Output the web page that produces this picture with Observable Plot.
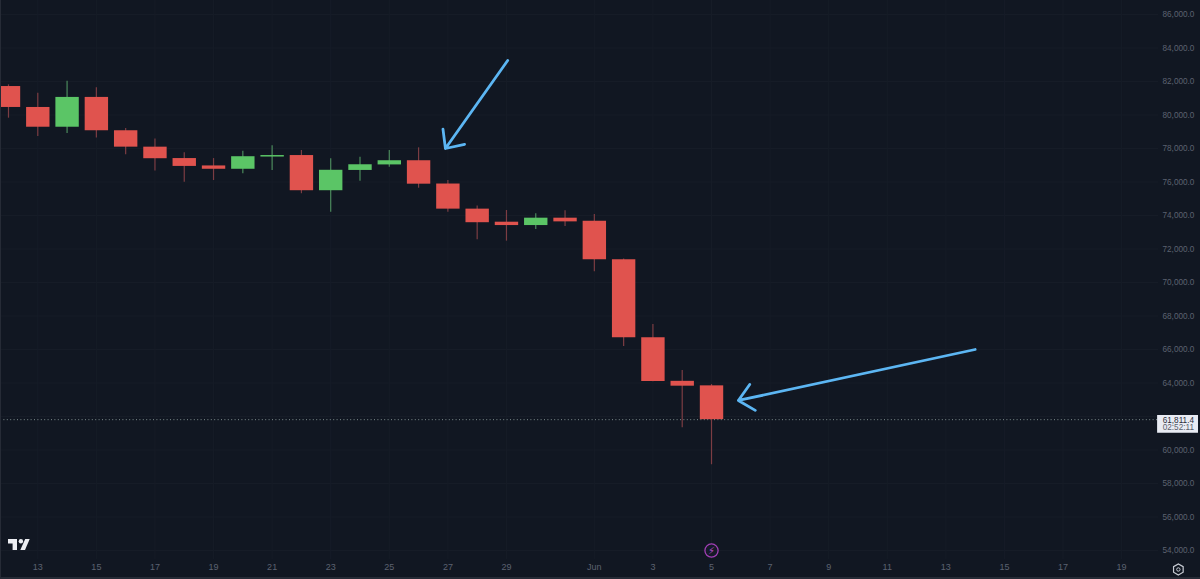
<!DOCTYPE html>
<html>
<head>
<meta charset="utf-8">
<script src="https://cdn.jsdelivr.net/npm/d3@7"></script>
<script src="https://cdn.jsdelivr.net/npm/@observablehq/plot@0.6"></script>
<style>
html,body{margin:0;padding:0;background:#111722;overflow:hidden}
#wrap{position:relative;width:1200px;height:579px;overflow:hidden}
#wrap svg{display:block}
#edge{position:absolute;left:0;top:0;width:1200px;height:579px;box-sizing:border-box;border-left:1px solid #262b36;border-bottom:2px solid #262b36;pointer-events:none}
#logo{position:absolute;left:8px;top:539px}
</style>
</head>
<body>
<div id="wrap"><div id="chart"></div><div id="edge"></div>
<svg id="logo" width="22" height="11" viewBox="0 0 22 11"><path fill="#eceef2" d="M0 0H9V11H4.6V4.4H0Z"/><path fill="#eceef2" d="M17.2 0H21.7L17 11H12.3Z"/><circle fill="#eceef2" cx="12.9" cy="2.2" r="2.2"/></svg>
</div>
<script>
const dates = ["2024-05-12","2024-05-13","2024-05-14","2024-05-15","2024-05-16","2024-05-17","2024-05-18","2024-05-19","2024-05-20","2024-05-21","2024-05-22","2024-05-23","2024-05-24","2024-05-25","2024-05-26","2024-05-27","2024-05-28","2024-05-29","2024-05-30","2024-05-31","2024-06-01","2024-06-02","2024-06-03","2024-06-04","2024-06-05"];
const opens  = [81700,80450,79270,81050,79060,78080,77400,76960,76760,77490,77580,75480,76690,77020,77270,75880,74380,73600,73400,73840,73660,71360,66700,64100,63830];
const closes = [80450,79270,81050,79060,78080,77390,76930,76760,77510,77580,75480,76700,77030,77270,75870,74380,73570,73400,73840,73620,71360,66700,64090,63810,61811];
const highs  = [81800,81300,82020,81620,79190,78560,77740,77400,77840,78160,77880,77390,77480,77880,78040,76090,74560,74300,74100,74280,74060,71400,67490,64750,63910];
const lows   = [79810,78720,78900,78620,77620,76650,75990,76090,76490,76690,75300,74200,76050,76880,75630,74200,72550,72470,73170,73340,70640,66180,64080,61330,59120];

const yTicks = [54000,56000,58000,60000,62000,64000,66000,68000,70000,72000,74000,76000,78000,80000,82000,84000,86000];
const yLabelTicks = [54000,56000,58000,60000,64000,66000,68000,70000,72000,74000,76000,78000,80000,82000,84000,86000];
const xTickDates = ["2024-05-13","2024-05-15","2024-05-17","2024-05-19","2024-05-21","2024-05-23","2024-05-25","2024-05-27","2024-05-29","2024-06-01","2024-06-03","2024-06-05","2024-06-07","2024-06-09","2024-06-11","2024-06-13","2024-06-15","2024-06-17","2024-06-19"];
const xTickLabels = ["13","15","17","19","21","23","25","27","29","Jun","3","5","7","9","11","13","15","17","19"];

const lastPrice = 61811.4;
const lastPriceLabel = "61,811.4";
const countdownLabel = "02:52:11";
const arrowStart = [["2024-05-29T01:00Z",83254],["2024-06-14T00:00Z",66000]];
const arrowEnd   = [["2024-05-26T22:00Z",78000],["2024-06-05T22:00Z",62956]];
const boxX = ["2024-06-20T05:30Z","2024-06-21T15:00Z"];
const boxY = [61000,62060];
const boxTextX = "2024-06-20T22:30Z";
const priceTextY = 61780;
const timerTextY = 61330;
const flashDate = "2024-06-05";
const flashY = 54000;
const gearX = "2024-06-20T22:30Z";
const gearY = 52867;

const D = s => new Date(s);
const candles = dates.map((d,i)=>({date:D(d),open:opens[i],close:closes[i],high:highs[i],low:lows[i],up:closes[i]>opens[i]}));
const xTicks = xTickDates.map(D);
const labelOf = new Map(xTickDates.map((d,i)=>[+D(d),xTickLabels[i]]));
const arrows = arrowStart.map((s,i)=>({x1:D(s[0]),y1:s[1],x2:D(arrowEnd[i][0]),y2:arrowEnd[i][1]}));

const RED="#e0534e", GREEN="#5bc566", RED_W="#7c3d43", GREEN_W="#4b8a5c", AXIS="#5c6270", GRID="#161c27", BLUE="#5cb6f3";
const font="'Liberation Sans', Arial, sans-serif";

const chart = Plot.plot({
  width:1200,height:579,marginTop:0,marginRight:42,marginBottom:20,marginLeft:0,
  style:{background:"#111722",fontFamily:font,overflow:"hidden"},
  x:{type:"utc",domain:[D("2024-05-11T17:27Z"),D("2024-06-20T06:14Z")],label:null},
  y:{type:"linear",domain:[53463,86836],label:null},
  marks:[
    Plot.ruleY(yTicks,{stroke:GRID,strokeWidth:1}),
    Plot.ruleX(xTicks,{stroke:GRID,strokeWidth:1}),
    Plot.axisY({anchor:"right",ticks:yLabelTicks,tickSize:0,tickPadding:4,fontSize:8.2,fill:AXIS,label:null,tickFormat:d=>d3.format(",.1f")(d)}),
    Plot.axisX({anchor:"bottom",ticks:xTicks,tickSize:0,tickPadding:4,fontSize:9,fill:AXIS,label:null,tickFormat:d=>labelOf.get(+d)}),
    Plot.ruleY([lastPrice],{stroke:"#7d8c8c",strokeWidth:1,strokeDasharray:"1 2.4"}),
    Plot.ruleX(candles,{x:"date",y1:"low",y2:"high",stroke:d=>d.up?GREEN_W:RED_W,strokeWidth:1.2}),
    Plot.ruleX(candles,{x:"date",y1:"open",y2:"close",stroke:d=>d.up?GREEN:RED,strokeWidth:23.4}),
    Plot.arrow(arrows,{x1:"x1",y1:"y1",x2:"x2",y2:"y2",stroke:BLUE,strokeWidth:2.8,headLength:10.5,headAngle:85}),
    Plot.rect([{}],{x1:()=>D(boxX[0]),x2:()=>D(boxX[1]),y1:()=>boxY[0],y2:()=>boxY[1],fill:"#e8ebf3"}),
    Plot.text([lastPriceLabel],{x:()=>D(boxTextX),y:()=>priceTextY,text:d=>d,fill:"#2a2e39",fontSize:8.2}),
    Plot.text([countdownLabel],{x:()=>D(boxTextX),y:()=>timerTextY,text:d=>d,fill:"#5b5f6b",fontSize:8.2}),
    Plot.dot([{}],{x:()=>D(flashDate),y:()=>flashY,r:6.6,stroke:"#a13fb5",strokeWidth:1.3,fill:"#161a28"}),
    Plot.text(["⚡"],{x:()=>D(flashDate),y:()=>flashY,text:d=>d,fill:"#b04cc4",fontSize:10,fontFamily:"DejaVu Sans"}),
    Plot.dot([{}],{x:()=>D(gearX),y:()=>gearY,symbol:"hexagon",r:4.8,stroke:"#c8ccd4",strokeWidth:1.2,fill:"none"}),
    Plot.dot([{}],{x:()=>D(gearX),y:()=>gearY,r:1.7,stroke:"#c8ccd4",strokeWidth:1,fill:"none"})
  ]
});
document.getElementById("chart").appendChild(chart);
</script>
</body>
</html>
